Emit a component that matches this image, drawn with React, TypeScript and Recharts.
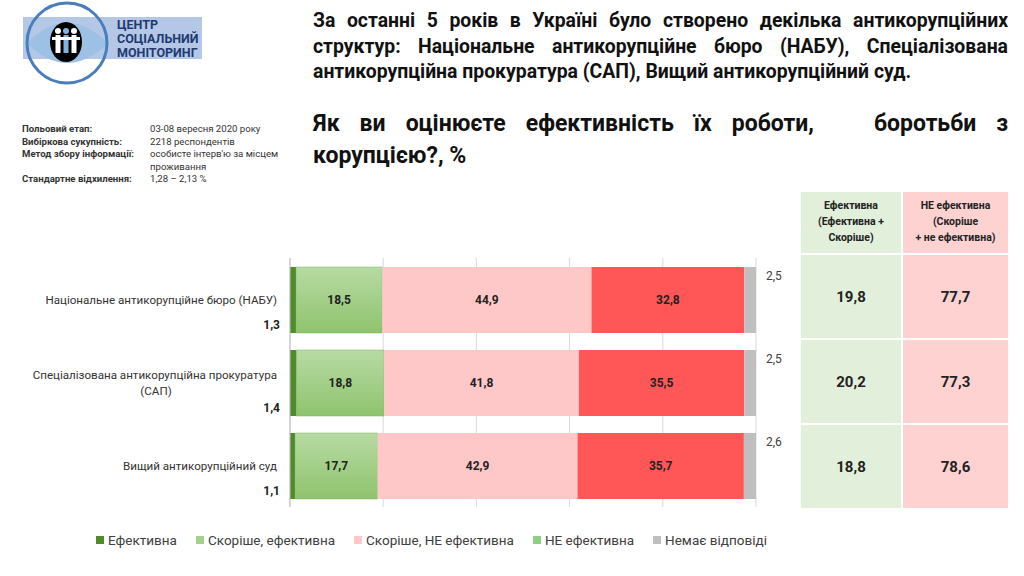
import React from 'react';
import { BarChart, Bar, XAxis, YAxis, CartesianGrid, LabelList } from 'recharts';

const categories = [
  'Національне антикорупційне бюро (НАБУ)',
  'Спеціалізована антикорупційна прокуратура (САП)',
  'Вищий антикорупційний суд',
];
const effective = [1.3, 1.4, 1.1];
const ratherEffective = [18.5, 18.8, 17.7];
const ratherNot = [44.9, 41.8, 42.9];
const notEffective = [32.8, 35.5, 35.7];
const noAnswer = [2.5, 2.5, 2.6];

const seriesNames = ['Ефективна', 'Скоріше, ефективна', 'Скоріше, НЕ ефективна', 'НЕ ефективна', 'Немає відповіді'];
// legend swatches as in the original slide (the "НЕ ефективна" one is green there)
const legendColors = ['#4f8a2b', '#a9d18e', '#ffc8c8', '#8fcf84', '#bfbfbf'];

const data = categories.map((name, i) => ({
  name,
  effective: effective[i],
  ratherEffective: ratherEffective[i],
  ratherNot: ratherNot[i],
  notEffective: notEffective[i],
  noAnswer: noAnswer[i],
}));

const fmt = (v: number) => v.toFixed(1).replace('.', ',');
const FONT = 'Roboto, "Noto Sans", sans-serif';

const wrap = (s: string, max: number) => {
  const words = s.split(' ');
  const lines: string[] = [];
  let cur = '';
  words.forEach((w) => {
    if ((cur + ' ' + w).trim().length > max && cur) {
      lines.push(cur);
      cur = w;
    } else cur = (cur + ' ' + w).trim();
  });
  if (cur) lines.push(cur);
  return lines;
};

const CategoryTick = ({ x, y, payload, index }: any) => {
  const lines = wrap(payload.value, 42);
  const start = lines.length === 1 ? 0 : -8;
  const mid = x - 13 - (lines[0].length * 5.9) / 2;
  return (
    <g>
      <text fontSize={11.6} fill="#333" fontFamily={FONT}>
        {lines.map((l, i) => (
          <tspan
            key={i}
            x={i > 0 ? mid : x - 13}
            y={y + start + i * 16}
            dominantBaseline="central"
            textAnchor={i > 0 ? 'middle' : 'end'}
          >
            {l}
          </tspan>
        ))}
      </text>
      <text x={x - 10} y={y + 25} textAnchor="end" dominantBaseline="central" fontSize={12} fontWeight="bold" fill="#222" fontFamily={FONT}>
        {fmt(effective[index])}
      </text>
    </g>
  );
};

const NoAnswerLabel = ({ x, y, width, value }: any) => (
  <text x={x + width + 10} y={y + 9} dominantBaseline="central" fontSize={12} fill="#404040" fontFamily={FONT}>
    {fmt(value)}
  </text>
);

const tableRows = categories.map((_, i) => ({
  yes: effective[i] + ratherEffective[i],
  no: ratherNot[i] + notEffective[i],
}));

const Logo = () => (
  <svg width={210} height={90} style={{ position: 'absolute', left: 0, top: 0 }}>
    <rect x={23} y={17} width={179} height={42} fill="#b4c7e7" />
    <path d="M27 43 Q67 3 108 43 Q67 83 27 43 Z" fill="#9cc1e4" />
    <ellipse cx={66} cy={42} rx={16} ry={20} fill="#000" />
    {[58, 66, 74].map((cx, i) => (
      <g key={i}>
        <circle cx={cx} cy={31} r={3} fill={i === 1 ? '#7fb3e0' : '#fff'} />
        <rect x={cx - 2.5} y={35} width={5} height={18} fill={i === 1 ? '#7fb3e0' : '#fff'} />
      </g>
    ))}
    <rect x={52} y={37} width={28} height={3} fill="#fff" />
    <circle cx={67} cy={43} r={40} fill="none" stroke="#4a7ebb" strokeWidth={3} />
    <text x={117} y={29} fontSize={12.5} fontWeight="bold" fill="#1f3a6e" fontFamily={FONT}>ЦЕНТР</text>
    <text x={117} y={43} fontSize={12.5} fontWeight="bold" fill="#1f3a6e" fontFamily={FONT}>СОЦІАЛЬНИЙ</text>
    <text x={117} y={57} fontSize={12.5} fontWeight="bold" fill="#1f3a6e" fontFamily={FONT}>МОНІТОРИНГ</text>
  </svg>
);

const infoRows = [
  ['Польовий  етап:', '03-08 вересня  2020 року'],
  ['Вибіркова  сукупність:', '2218  респондентів'],
  ['Метод збору інформації:', 'особисте інтерв\'ю за місцем'],
  ['', 'проживання'],
  ['Стандартне  відхилення:', '1,28 – 2,13 %'],
];

export default function App() {
  const just: React.CSSProperties = { textAlign: 'justify', textAlignLast: 'justify', whiteSpace: 'nowrap' };
  return (
    <div style={{ position: 'absolute', left: 0, top: 0, width: 1024, height: 576, background: '#fff', fontFamily: FONT, overflow: 'hidden' }}>
      <BarChart
        width={1024}
        height={576}
        data={data}
        layout="vertical"
        margin={{ top: 258, right: 268, bottom: 69, left: 10 }}
        barSize={66}
      >
        <defs>
          <linearGradient id="lg" x1="0" y1="0" x2="0" y2="1">
            <stop offset="0%" stopColor="#b7dba3" />
            <stop offset="100%" stopColor="#8fc36e" />
          </linearGradient>
        </defs>
        <CartesianGrid horizontal={false} vertical stroke="#d9d9d9" />
        <XAxis type="number" domain={[0, 100]} ticks={[0, 20, 40, 60, 80, 100]} hide />
        <YAxis
          type="category"
          dataKey="name"
          width={280}
          axisLine={{ stroke: '#bfbfbf' }}
          tickLine={false}
          tickSize={0}
          tickMargin={0}
          tick={<CategoryTick />}
          interval={0}
        />
        <Bar dataKey="effective" name={seriesNames[0]} stackId="a" fill="#4f8a2b" isAnimationActive={false} />
        <Bar dataKey="ratherEffective" name={seriesNames[1]} stackId="a" fill="url(#lg)" stroke="#7fb65f" strokeWidth={0.5} isAnimationActive={false}>
          <LabelList dataKey="ratherEffective" position="center" formatter={(v: any) => fmt(v)} fill="#222" fontSize={12} fontWeight="bold" />
        </Bar>
        <Bar dataKey="ratherNot" name={seriesNames[2]} stackId="a" fill="#ffc8c8" isAnimationActive={false}>
          <LabelList dataKey="ratherNot" position="center" formatter={(v: any) => fmt(v)} fill="#222" fontSize={12} fontWeight="bold" />
        </Bar>
        <Bar dataKey="notEffective" name={seriesNames[3]} stackId="a" fill="#ff5757" isAnimationActive={false}>
          <LabelList dataKey="notEffective" position="center" formatter={(v: any) => fmt(v)} fill="#222" fontSize={12} fontWeight="bold" />
        </Bar>
        <Bar dataKey="noAnswer" name={seriesNames[4]} stackId="a" fill="#bfbfbf" isAnimationActive={false}>
          <LabelList dataKey="noAnswer" content={<NoAnswerLabel />} />
        </Bar>
      </BarChart>

      <div style={{ position: 'absolute', left: 96, top: 532, display: 'flex', gap: 19, fontSize: 13.5, color: '#404040' }}>
        {seriesNames.map((n, i) => (
          <div key={n} style={{ display: 'flex', alignItems: 'center' }}>
            <span style={{ width: 8, height: 8, background: legendColors[i], display: 'inline-block', marginRight: 4 }} />
            {n}
          </div>
        ))}
      </div>

      <Logo />

      <div style={{ position: 'absolute', left: 22, top: 123, fontSize: 9.6, color: '#333', lineHeight: '12.5px' }}>
        {infoRows.map(([a, b], i) => (
          <div key={i} style={{ display: 'flex' }}>
            <span style={{ width: 128, fontWeight: 'bold' }}>{a}</span>
            <span>{b}</span>
          </div>
        ))}
      </div>

      <div style={{ position: 'absolute', left: 313, top: 8, width: 695, fontSize: 19.4, fontWeight: 'bold', color: '#111', lineHeight: '25.5px' }}>
        <div style={just}>За останні 5 років в Україні було створено декілька антикорупційних</div>
        <div style={just}>структур: Національне антикорупційне бюро (НАБУ), Спеціалізована</div>
        <div style={{ whiteSpace: 'nowrap' }}>антикорупційна прокуратура (САП), Вищий антикорупційний суд.</div>
      </div>

      <div style={{ position: 'absolute', left: 313, top: 108, width: 695, fontSize: 23, fontWeight: 'bold', color: '#111', lineHeight: '32px' }}>
        <div style={just}>Як ви оцінюєте ефективність їх роботи,&nbsp;&nbsp; боротьби з</div>
        <div>корупцією?, %</div>
      </div>

      <div style={{ position: 'absolute', left: 801, top: 192, width: 207 }}>
        <div style={{ display: 'flex', height: 61, gap: 2 }}>
          <div style={{ width: 100, background: '#e2efda', fontSize: 10.5, fontWeight: 'bold', color: '#222', textAlign: 'center', lineHeight: '16px', paddingTop: 6, boxSizing: 'border-box' }}>
            Ефективна<br />(Ефективна +<br />Скоріше)
          </div>
          <div style={{ width: 105, background: '#ffd2d2', fontSize: 10.5, fontWeight: 'bold', color: '#222', textAlign: 'center', lineHeight: '16px', paddingTop: 6, boxSizing: 'border-box' }}>
            НЕ ефективна<br />(Скоріше<br />+ не ефективна)
          </div>
        </div>
        {tableRows.map((r, i) => (
          <div key={i} style={{ display: 'flex', height: 83, gap: 2, marginTop: 2 }}>
            <div style={{ width: 100, background: '#e2efda', display: 'flex', alignItems: 'center', justifyContent: 'center', fontSize: 15, fontWeight: 'bold', color: '#222' }}>
              {fmt(r.yes)}
            </div>
            <div style={{ width: 105, background: '#ffd2d2', display: 'flex', alignItems: 'center', justifyContent: 'center', fontSize: 15, fontWeight: 'bold', color: '#222' }}>
              {fmt(r.no)}
            </div>
          </div>
        ))}
      </div>
    </div>
  );
}
